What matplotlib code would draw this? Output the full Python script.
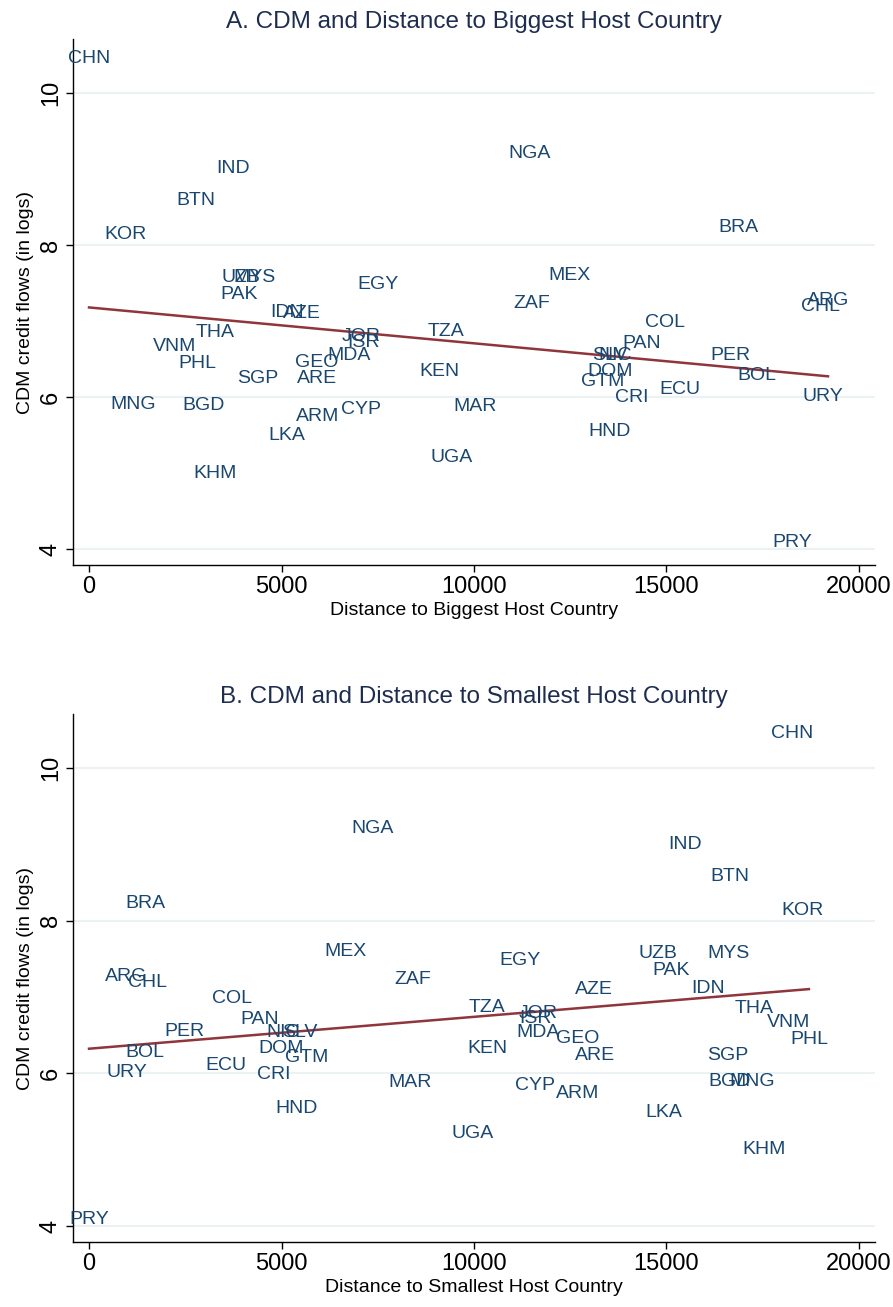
import numpy as np
import matplotlib.pyplot as plt

plt.rcParams['font.family'] = ['Liberation Sans', 'DejaVu Sans']

# country codes and log CDM credit flows
codes = ['CHN', 'NGA', 'IND', 'BTN', 'KOR', 'BRA', 'MEX', 'UZB', 'MYS', 'EGY',
         'PAK', 'ZAF', 'ARG', 'CHL', 'AZE', 'IDN', 'COL', 'TZA', 'THA', 'JOR',
         'ISR', 'VNM', 'PAN', 'PER', 'NIC', 'SLV', 'MDA', 'GEO', 'PHL', 'DOM',
         'KEN', 'BOL', 'ARE', 'SGP', 'GTM', 'ECU', 'CRI', 'URY', 'MNG', 'BGD',
         'MAR', 'CYP', 'ARM', 'HND', 'LKA', 'UGA', 'KHM', 'PRY']
cdm = [10.46, 9.21, 9.00, 8.58, 8.14, 8.23, 7.60, 7.57, 7.57, 7.48,
       7.35, 7.23, 7.27, 7.19, 7.10, 7.11, 6.98, 6.86, 6.85, 6.79,
       6.72, 6.67, 6.71, 6.55, 6.54, 6.54, 6.54, 6.46, 6.44, 6.33,
       6.33, 6.28, 6.24, 6.24, 6.21, 6.10, 5.99, 6.01, 5.90, 5.89,
       5.88, 5.84, 5.74, 5.54, 5.49, 5.21, 5.00, 4.08]
# distance to biggest host country
dist_big = [0, 11455, 3740, 2780, 935, 16860, 12470, 3950, 4310, 7505,
            3900, 11505, 19195, 19010, 5530, 5140, 14960, 9270, 3270, 7065,
            7140, 2235, 14365, 16650, 13660, 13530, 6750, 5920, 2805, 13530,
            9115, 17350, 5920, 4390, 13350, 15350, 14100, 19065, 1140, 2985,
            10025, 7065, 5950, 13530, 5140, 9430, 3270, 18260]
# distance to smallest host country
dist_small = [18260, 7375, 15480, 16650, 18520, 1455, 6650, 14780, 16620, 11195,
              15115, 8415, 960, 1530, 13115, 16080, 3715, 10340, 17270, 11660,
              11585, 18180, 4440, 2470, 5040, 5480, 11660, 12700, 18700, 4990,
              10340, 1455, 13140, 16600, 5660, 3560, 4805, 985, 17220, 16650,
              8340, 11585, 12700, 5400, 14935, 9975, 17530, 0]

panels = [
    ('A. CDM and Distance to Biggest Host Country', 'Distance to Biggest Host Country', dist_big),
    ('B. CDM and Distance to Smallest Host Country', 'Distance to Smallest Host Country', dist_small),
]

W, H = 893, 1307
fig = plt.figure(figsize=(W / 100, H / 100), dpi=100)
fig.patch.set_facecolor('white')

boxes = [(39, 565), (714, 1242)]
left, right = 73, 875
navy = '#1a476f'

for (title, xlabel, dist), (top, bot) in zip(panels, boxes):
    ax = fig.add_axes([left / W, 1 - bot / H, (right - left) / W, (bot - top) / H])
    x = np.array(dist, dtype=float)
    y = np.array(cdm)
    ax.set_xlim(-416, 20416)
    ax.set_ylim(3.79, 10.71)
    for y0 in [4, 6, 8, 10]:
        ax.axhline(y0, color='#eaf2f3', lw=1.5, zorder=0)
    for xi, yi, c in zip(x, y, codes):
        ax.text(xi, yi, c, ha='center', va='center', fontsize=14, color=navy, zorder=3)
    # linear fit, drawn over the observed range
    b, a = np.polyfit(x, y, 1)
    xs = np.array([x.min(), x.max()])
    ax.plot(xs, a + b * xs, color='#90353b', lw=1.8, zorder=2)
    ax.set_xticks([0, 5000, 10000, 15000, 20000])
    ax.set_yticks([4, 6, 8, 10])
    ax.tick_params(axis='both', labelsize=17, length=5, width=1, color='black', pad=3)
    for lab in ax.get_yticklabels():
        lab.set_rotation(90)
        lab.set_va('center')
    ax.spines['top'].set_visible(False)
    ax.spines['right'].set_visible(False)
    ax.spines['left'].set_linewidth(1)
    ax.spines['bottom'].set_linewidth(1)
    ax.set_xlabel(xlabel, fontsize=14, labelpad=3)
    ax.set_ylabel('CDM credit flows (in logs)', fontsize=14, labelpad=4)
    ax.set_title(title, fontsize=17.5, color='#1e2d4f', pad=8)

fig.savefig('out.png', dpi=100, facecolor='white')
